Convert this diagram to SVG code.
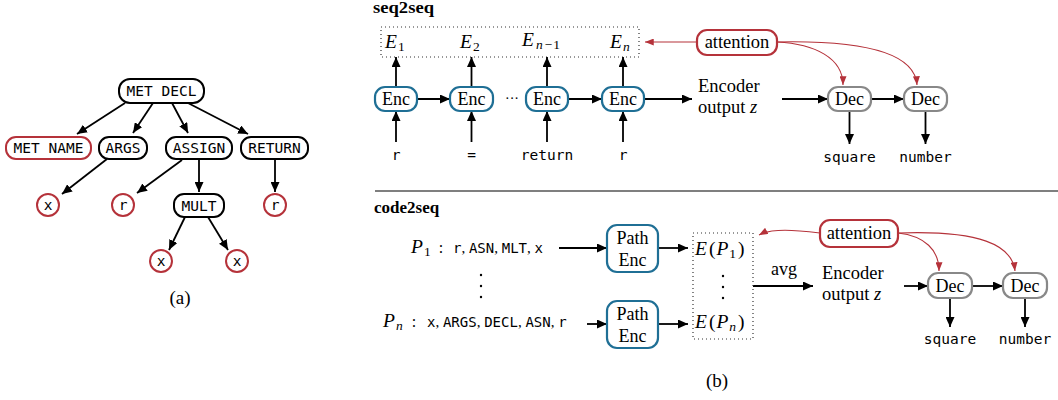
<svg xmlns="http://www.w3.org/2000/svg" width="1058" height="400" viewBox="0 0 1058 400">
<style>
.bg{fill:#fff}
.tn{fill:#fff;stroke:#000;stroke-width:2}
.tr{fill:#fff;stroke:#b5323a;stroke-width:2}
.enc{fill:#fff;stroke:#1f6f95;stroke-width:2.2}
.dec{fill:#fff;stroke:#888;stroke-width:2.2}
.att{fill:#fff;stroke:#b5323a;stroke-width:2.2}
.mono{font-family:"DejaVu Sans Mono",monospace;font-size:14.5px;fill:#000}
.tmono{font-family:"DejaVu Sans Mono",monospace;font-size:14.5px;fill:#000}
.ser{font-family:"Liberation Serif","Times New Roman",serif;font-size:18px;fill:#000}
.it{font-style:italic}
.big{font-size:19.5px}
.sub{font-size:13.5px;font-style:normal}
.subi{font-size:13.5px;font-style:italic}
.bold{font-family:"Liberation Serif","Times New Roman",serif;font-size:17px;font-weight:bold;fill:#000}
.ar{fill:none;stroke:#000;stroke-width:1.8;marker-end:url(#ah)}
.ra{fill:none;stroke:#b5323a;stroke-width:1.1;marker-end:url(#rh)}
.dot{fill:none;stroke:#333;stroke-width:1.2;stroke-dasharray:1 3}
</style>
<defs>
<marker id="ah" viewBox="0 0 10 9" refX="10" refY="4.5" markerWidth="10" markerHeight="9" markerUnits="userSpaceOnUse" orient="auto"><path d="M0,0 L10,4.5 L0,9 z" fill="#000"/></marker>
<marker id="rh" viewBox="0 0 10 8" refX="10" refY="4" markerWidth="9" markerHeight="7" markerUnits="userSpaceOnUse" orient="auto"><path d="M0,0 L10,4 L0,8 z" fill="#b5323a"/></marker>
</defs>
<rect class="bg" x="0" y="0" width="1058" height="400"/>

<!-- (a) tree -->
<g id="connectors-a">
<path class="ar" d="M125,103 L77,134"/>
<path class="ar" d="M153,103 L133,133"/>
<path class="ar" d="M172,103 L188,133"/>
<path class="ar" d="M188,103 L248,134"/>
<path class="ar" d="M107,159 L62,194"/>
<path class="ar" d="M182,160 L137,193"/>
<path class="ar" d="M199,160 L199,192"/>
<path class="ar" d="M275,160 L275,192"/>
<path class="ar" d="M185,217 L169,250"/>
<path class="ar" d="M208,217 L228,250"/>
</g>
<g id="met-decl"><rect class="tn" x="119" y="79" width="85" height="24" rx="11"/><text class="tmono" x="161.5" y="96" text-anchor="middle">MET DECL</text></g>
<g id="met-name"><rect class="tr" x="6" y="137" width="85" height="22" rx="10"/><text class="tmono" x="48.5" y="153" text-anchor="middle">MET NAME</text></g>
<g id="args"><rect class="tn" x="99" y="137" width="48" height="22" rx="10"/><text class="tmono" x="123" y="153" text-anchor="middle">ARGS</text></g>
<g id="assign"><rect class="tn" x="166" y="137" width="66" height="22" rx="10"/><text class="tmono" x="199" y="153" text-anchor="middle">ASSIGN</text></g>
<g id="return"><rect class="tn" x="241" y="137" width="67" height="22" rx="10"/><text class="tmono" x="274.5" y="153" text-anchor="middle">RETURN</text></g>
<g id="leaf-x1"><circle class="tr" cx="48" cy="205" r="11"/><text class="tmono" x="48" y="209.5" text-anchor="middle">x</text></g>
<g id="leaf-r1"><circle class="tr" cx="123" cy="205" r="11"/><text class="tmono" x="123" y="209.5" text-anchor="middle">r</text></g>
<g id="mult"><rect class="tn" x="174" y="194" width="50" height="23" rx="10"/><text class="tmono" x="199" y="210.5" text-anchor="middle">MULT</text></g>
<g id="leaf-r2"><circle class="tr" cx="275" cy="205" r="11"/><text class="tmono" x="275" y="209.5" text-anchor="middle">r</text></g>
<g id="leaf-x2"><circle class="tr" cx="161" cy="261" r="11"/><text class="tmono" x="161" y="265.5" text-anchor="middle">x</text></g>
<g id="leaf-x3"><circle class="tr" cx="237" cy="261" r="11"/><text class="tmono" x="237" y="265.5" text-anchor="middle">x</text></g>
<text class="ser" x="180" y="304" text-anchor="middle" style="font-size:19px">(a)</text>

<!-- seq2seq -->
<text class="bold" x="373" y="13" textLength="61" lengthAdjust="spacingAndGlyphs">seq2seq</text>
<rect class="dot" x="381" y="27" width="258" height="30"/>
<g id="e-labels">
<text class="ser it big" x="385" y="48">E<tspan class="sub" dy="3" dx="1">1</tspan></text>
<text class="ser it big" x="460" y="48">E<tspan class="sub" dy="3" dx="1">2</tspan></text>
<text class="ser it big" x="522" y="46">E<tspan class="subi" dy="3" dx="2">n</tspan><tspan class="sub" dx="2">−</tspan><tspan class="sub" dx="1">1</tspan></text>
<text class="ser it big" x="610" y="48">E<tspan class="subi" dy="3" dx="1">n</tspan></text>
</g>
<g id="connectors-seq">
<path class="ar" d="M396,87 L396,57"/>
<path class="ar" d="M471.5,87 L471.5,57"/>
<path class="ar" d="M547,87 L547,57"/>
<path class="ar" d="M623,87 L623,57"/>
<path class="ar" d="M396,142 L396,111"/>
<path class="ar" d="M471.5,142 L471.5,111"/>
<path class="ar" d="M547,142 L547,111"/>
<path class="ar" d="M623,142 L623,111"/>
<path class="ar" d="M417,99 L450,99"/>
<path class="ar" d="M568,99 L602,99"/>
<path class="ar" d="M644,99 L692,99"/>
<path class="ar" d="M782,99 L828,99"/>
<path class="ar" d="M871,99 L904,99"/>
<path class="ar" d="M849.5,111 L849.5,144"/>
<path class="ar" d="M925.5,111 L925.5,144"/>
<path class="ra" d="M697,42 L645,42"/>
<path class="ra" d="M777,42 C815,44 843,58 843,85"/>
<path class="ra" d="M777,42 C870,40 915,55 917,85"/>
</g>
<g id="enc1"><rect class="enc" x="375" y="87" width="42" height="24" rx="10"/><text class="ser" x="396" y="105" text-anchor="middle">Enc</text></g>
<g id="enc2"><rect class="enc" x="450" y="87" width="43" height="24" rx="10"/><text class="ser" x="471.5" y="105" text-anchor="middle">Enc</text></g>
<text class="ser" x="512" y="103" text-anchor="middle" style="font-size:14px">···</text>
<g id="enc3"><rect class="enc" x="526" y="87" width="42" height="24" rx="10"/><text class="ser" x="547" y="105" text-anchor="middle">Enc</text></g>
<g id="enc4"><rect class="enc" x="602" y="87" width="42" height="24" rx="10"/><text class="ser" x="623" y="105" text-anchor="middle">Enc</text></g>
<text class="mono" x="396" y="160" text-anchor="middle">r</text>
<text class="mono" x="471.5" y="160" text-anchor="middle">=</text>
<text class="mono" x="547" y="160" text-anchor="middle">return</text>
<text class="mono" x="623" y="160" text-anchor="middle">r</text>
<g id="attention1"><rect class="att" x="697" y="30" width="80" height="25" rx="10"/><text class="ser" x="737" y="48" text-anchor="middle" style="font-size:18.5px">attention</text></g>
<text class="ser" x="698" y="92" style="font-size:18.5px">Encoder</text>
<text class="ser" x="698" y="113" style="font-size:18.5px">output <tspan class="it">z</tspan></text>
<g id="dec1"><rect class="dec" x="828" y="87" width="43" height="24" rx="10"/><text class="ser" x="849.5" y="105" text-anchor="middle">Dec</text></g>
<g id="dec2"><rect class="dec" x="904" y="87" width="43" height="24" rx="10"/><text class="ser" x="925.5" y="105" text-anchor="middle">Dec</text></g>
<text class="mono" x="849.5" y="162" text-anchor="middle">square</text>
<text class="mono" x="925.5" y="162" text-anchor="middle">number</text>

<line x1="375" y1="191" x2="1058" y2="191" stroke="#000" stroke-width="1.2"/>

<!-- code2seq -->
<text class="bold" x="374" y="213">code2seq</text>
<text class="ser" x="411" y="253"><tspan class="it big">P</tspan><tspan class="sub" dy="3" dx="1">1</tspan><tspan dy="-3" dx="8" style="font-size:16px">:</tspan></text>
<text class="mono" x="453" y="253" style="font-size:14px">r<tspan class="ser" style="font-size:15px">, </tspan>ASN<tspan class="ser" style="font-size:15px">, </tspan>MLT<tspan class="ser" style="font-size:15px">, </tspan>x</text>
<text class="ser" x="383" y="327"><tspan class="it big">P</tspan><tspan class="subi" dy="3" dx="1">n</tspan><tspan dy="-3" dx="9" style="font-size:16px">:</tspan></text>
<text class="mono" x="427" y="327" style="font-size:14px">x<tspan class="ser" style="font-size:15px">, </tspan>ARGS<tspan class="ser" style="font-size:15px">, </tspan>DECL<tspan class="ser" style="font-size:15px">, </tspan>ASN<tspan class="ser" style="font-size:15px">, </tspan>r</text>
<circle cx="481" cy="275" r="1.2"/><circle cx="481" cy="286" r="1.2"/><circle cx="481" cy="297" r="1.2"/>
<g id="connectors-code">
<path class="ar" d="M559,248 L607,248"/>
<path class="ar" d="M587,324 L607,324"/>
<path class="ar" d="M658,248 L688,248"/>
<path class="ar" d="M658,324 L688,324"/>
<path class="ar" d="M753,286 L813,286"/>
<path class="ar" d="M904,286 L928,286"/>
<path class="ar" d="M972,286 L1003,286"/>
<path class="ar" d="M950,298 L950,327"/>
<path class="ar" d="M1025,298 L1025,327"/>
<path class="ra" d="M820,233 C795,230 772,228 759,235"/>
<path class="ra" d="M898,233 C925,236 939,250 939,271"/>
<path class="ra" d="M898,233 C980,230 1012,245 1015,271"/>
</g>
<g id="pathenc1"><rect class="enc" x="607" y="225" width="51" height="47" rx="10"/><text class="ser" x="632.5" y="244" text-anchor="middle">Path</text><text class="ser" x="632.5" y="266" text-anchor="middle">Enc</text></g>
<g id="pathenc2"><rect class="enc" x="607" y="301" width="51" height="47" rx="10"/><text class="ser" x="632.5" y="320" text-anchor="middle">Path</text><text class="ser" x="632.5" y="342" text-anchor="middle">Enc</text></g>
<rect class="dot" x="693" y="233" width="60" height="106"/>
<text class="ser big" x="695" y="255"><tspan class="it">E</tspan><tspan dx="2">(</tspan><tspan class="it" dx="1">P</tspan><tspan class="sub" dy="3" dx="1">1</tspan><tspan dy="-3" dx="2">)</tspan></text>
<text class="ser big" x="695" y="328"><tspan class="it">E</tspan><tspan dx="2">(</tspan><tspan class="it" dx="1">P</tspan><tspan class="subi" dy="3" dx="1">n</tspan><tspan dy="-3" dx="2">)</tspan></text>
<circle cx="723" cy="276" r="1.2"/><circle cx="723" cy="287" r="1.2"/><circle cx="723" cy="298" r="1.2"/>
<text class="ser" x="784" y="275" text-anchor="middle">avg</text>
<text class="ser" x="822" y="279" style="font-size:18.5px">Encoder</text>
<text class="ser" x="822" y="300" style="font-size:18.5px">output <tspan class="it">z</tspan></text>
<g id="attention2"><rect class="att" x="820" y="220" width="78" height="27" rx="10"/><text class="ser" x="859" y="239" text-anchor="middle" style="font-size:18.5px">attention</text></g>
<g id="dec3"><rect class="dec" x="928" y="273" width="44" height="25" rx="10"/><text class="ser" x="950" y="292" text-anchor="middle">Dec</text></g>
<g id="dec4"><rect class="dec" x="1003" y="273" width="44" height="25" rx="10"/><text class="ser" x="1025" y="292" text-anchor="middle">Dec</text></g>
<text class="mono" x="950" y="344" text-anchor="middle">square</text>
<text class="mono" x="1025" y="344" text-anchor="middle">number</text>
<text class="ser" x="717" y="387" text-anchor="middle" style="font-size:19px">(b)</text>
</svg>
